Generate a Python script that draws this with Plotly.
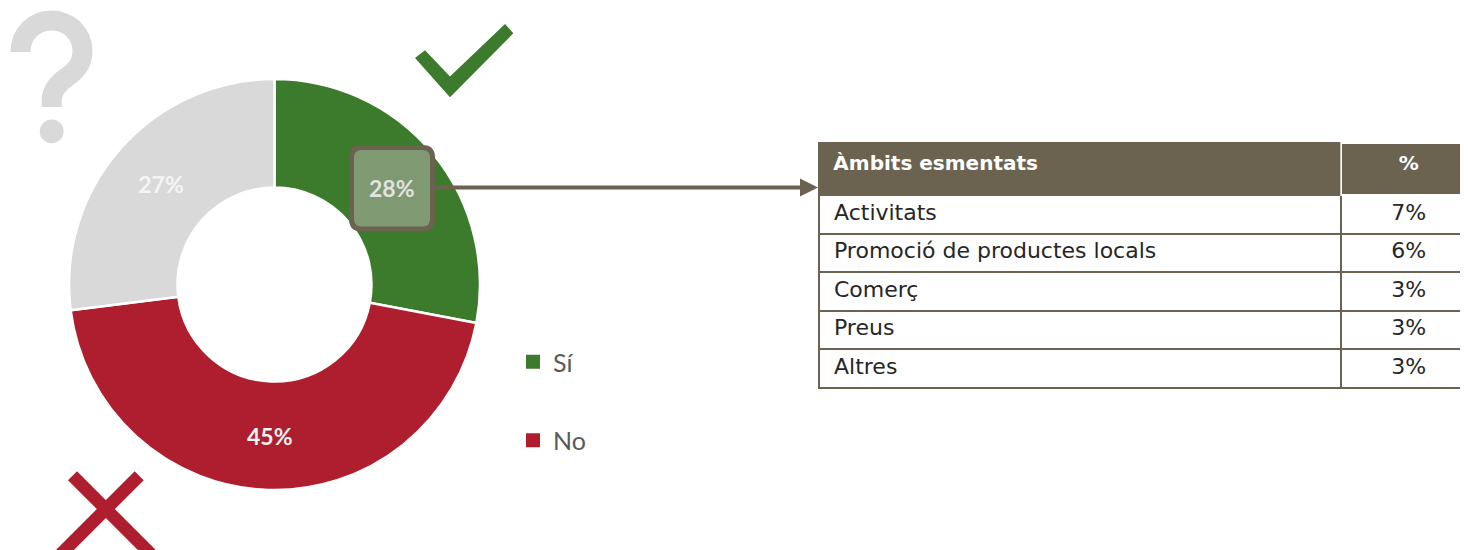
import plotly.graph_objects as go

# ---- data ----
slice_labels = ["Sí", "No", "NS/NC"]
slice_values = [28, 45, 27]
slice_colors = ["#3c7a2c", "#ae1e2e", "#d9d9d9"]
legend_labels = ["Sí", "No"]

table_header = ["Àmbits esmentats", "%"]
table_items = ["Activitats", "Promoció de productes locals", "Comerç", "Preus", "Altres"]
table_pcts = [7, 6, 3, 3, 3]

BROWN = "#6b6350"
W, H = 1468, 550
OFF = 8  # page body margin offset
NB = "\u00a0"  # small left padding inside table cells


def px(x):
    return (x - OFF) / W


def py(y):
    return 1 - (y - OFF) / H


def poly(points):
    return "M " + " L ".join(f"{px(x):.5f},{py(y):.5f}" for x, y in points) + " Z"


def rounded_rect(x0, y0, x1, y1, r):
    X0, X1 = px(x0), px(x1)
    Y0, Y1 = py(y0), py(y1)
    rx, ry = r / W, r / H
    return (f"M {X0+rx},{Y0} L {X1-rx},{Y0} Q {X1},{Y0} {X1},{Y0-ry} "
            f"L {X1},{Y1+ry} Q {X1},{Y1} {X1-rx},{Y1} "
            f"L {X0+rx},{Y1} Q {X0},{Y1} {X0},{Y1+ry} "
            f"L {X0},{Y0-ry} Q {X0},{Y0} {X0+rx},{Y0} Z")


def p(x, y):
    return f"{px(x):.5f},{py(y):.5f}"


fig = go.Figure()

# donut
cx, cy, R = 274.5, 284.5, 205.5
text_colors = ["rgba(0,0,0,0)", "#f4f4f4", "#f4f4f4"]
fig.add_trace(go.Pie(
    labels=slice_labels, values=slice_values, sort=False, direction="clockwise",
    rotation=0, hole=0.472,
    marker=dict(colors=slice_colors, line=dict(color="white", width=2.5)),
    texttemplate="%{value}%", textposition="inside", insidetextorientation="horizontal",
    textfont=dict(family="Lato", size=23, color=text_colors, weight="bold"),
    domain=dict(x=[px(cx - R), px(cx + R)], y=[py(cy + R), py(cy - R)]),
    showlegend=False, hoverinfo="label+percent",
))

# legend (only Sí / No)
for lab, col in zip(legend_labels, slice_colors[:2]):
    fig.add_trace(go.Scatter(x=[None], y=[None], mode="markers", name=lab,
                             legendgroup=lab,
                             marker=dict(symbol="square", size=14, color=col)))

# table
fig.add_trace(go.Table(
    domain=dict(x=[px(819), 1.0], y=[0.0, py(143)]),
    columnwidth=[516, 133],
    header=dict(values=[f"{NB}<b>{table_header[0]}</b>", f"<b>{table_header[1]}</b>"],
                fill_color=BROWN, line=dict(color=[BROWN, "white"], width=2),
                align=["left", "center"], height=52,
                font=dict(family="DejaVu Sans", size=20, color="white")),
    cells=dict(values=[[NB + t for t in table_items], [f"{v}%" for v in table_pcts]],
               fill_color="white", line=dict(color=BROWN, width=2),
               align=["left", "center"], height=38.6,
               font=dict(family="DejaVu Sans", size=22, color="#262626")),
))

shapes = []
# highlight box around 28%
shapes.append(dict(type="path", xref="paper", yref="paper",
                   path=rounded_rect(351.5, 147.5, 432.5, 229, 10),
                   fillcolor="#7f9a73", line=dict(color=BROWN, width=5), layer="above"))
# check mark
shapes.append(dict(type="path", xref="paper", yref="paper",
                   path=poly([(415, 57.9), (425, 50.2), (450, 76.5), (505, 23.9), (513.3, 33.3), (450, 97.2)]),
                   fillcolor="#3c7a2c", line=dict(width=0), layer="above"))
# X mark
shapes.append(dict(type="path", xref="paper", yref="paper",
                   path=poly([(77, 471.2), (177, 571.2), (168, 580.2), (68, 480.2)]),
                   fillcolor="#ae1e2e", line=dict(width=0), layer="above"))
shapes.append(dict(type="path", xref="paper", yref="paper",
                   path=poly([(134.7, 471.2), (143.7, 480.2), (43.7, 580.2), (34.7, 571.2)]),
                   fillcolor="#ae1e2e", line=dict(width=0), layer="above"))
# question mark (stroke + dot)
qpath = (f"M {p(20.5, 52)} C {p(20.5, 34)} {p(34, 20.5)} {p(51.5, 20.5)} "
         f"C {p(69, 20.5)} {p(82.5, 34)} {p(82.5, 51)} "
         f"C {p(82.5, 64)} {p(76, 71)} {p(67, 77)} "
         f"C {p(57, 84)} {p(51.7, 91)} {p(51.7, 100)} L {p(51.7, 107)}")
shapes.append(dict(type="path", xref="paper", yref="paper", path=qpath,
                   fillcolor="rgba(0,0,0,0)", line=dict(color="#d9d9d9", width=20),
                   layer="above"))
shapes.append(dict(type="circle", xref="paper", yref="paper",
                   x0=px(39.8), x1=px(63.6), y0=py(143.3), y1=py(119.5),
                   fillcolor="#d9d9d9", line=dict(width=0), layer="above"))

annotations = [
    # 28% label inside highlight box
    dict(x=px(392), y=py(188.5), xref="paper", yref="paper", showarrow=False,
         xanchor="center", yanchor="middle",
         text=f"{slice_values[0]}%",
         font=dict(family="Lato", size=23, color="#e2e2e2", weight="bold")),
    # arrow to table
    dict(x=px(818), y=py(187.5), xref="paper", yref="paper", text="",
         showarrow=True, ax=-(818 - 435), ay=0, arrowhead=2, arrowsize=0.9,
         arrowwidth=4, arrowcolor=BROWN, standoff=0, startstandoff=0),
]

fig.update_layout(
    width=W, height=H, margin=dict(l=0, r=0, t=0, b=0),
    paper_bgcolor="white", plot_bgcolor="white",
    xaxis=dict(visible=False), yaxis=dict(visible=False),
    shapes=shapes, annotations=annotations,
    legend=dict(x=px(513), y=py(339), xanchor="left", yanchor="top",
                font=dict(family="Lato", size=25, color="#595959"),
                tracegroupgap=43, bgcolor="rgba(0,0,0,0)"),
)

fig.write_html("out.html")
